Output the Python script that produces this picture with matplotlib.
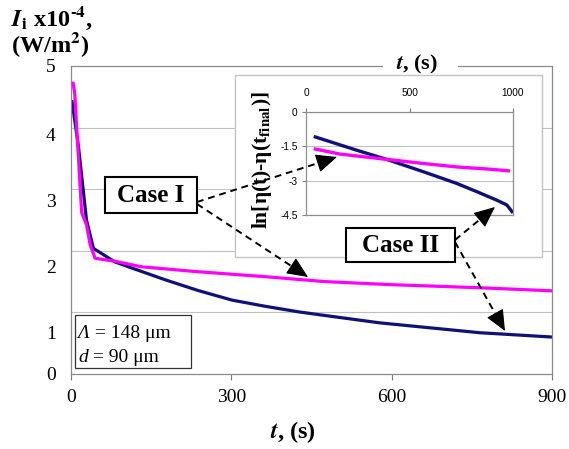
import matplotlib
matplotlib.use("Agg")
import matplotlib.pyplot as plt
from matplotlib.patches import Rectangle
import numpy as np

plt.rcParams['mathtext.fontset'] = 'stix'
plt.rcParams['font.family'] = ['Liberation Serif', 'DejaVu Serif']

# ---------------- data ----------------
# main chart: irradiance I_i x1e-4 (W/m^2) vs time t (s)
case1_t = [4, 7, 17, 20, 29, 36, 45, 82, 132, 238, 363, 475, 600, 765, 900]
case1_I = [4.72, 4.55, 3.04, 2.62, 2.42, 2.09, 1.88, 1.83, 1.74, 1.66, 1.58, 1.50, 1.45, 1.40, 1.35]
case2_t = [2, 14, 29, 42, 82, 114, 176, 238, 301, 363, 425, 475, 578, 765, 900]
case2_I = [4.42, 3.69, 2.50, 2.04, 1.82, 1.72, 1.53, 1.355, 1.20, 1.10, 1.01, 0.95, 0.83, 0.67, 0.60]

# inset: ln[eta(t)-eta(t_final)] vs t
ins1_t = [45, 165, 390, 567, 728, 889, 978]
ins1_v = [-1.62, -1.84, -2.07, -2.25, -2.40, -2.50, -2.57]
ins2_t = [45, 245, 390, 567, 728, 825, 921, 970, 995]
ins2_v = [-1.09, -1.67, -2.07, -2.61, -3.12, -3.48, -3.85, -4.06, -4.35]

x_ticks = [0, 300, 600, 900]
y_tick_labels = ['0', '1', '2', '3', '4', '5']
y_tick_pos = [0.0, 0.67, 1.74, 2.81, 3.88, 5.0]   # labels as placed in the original
y_grid = [1, 2, 3, 4]
ins_x_ticks = [0, 500, 1000]
ins_y_ticks = [0, -1.5, -3, -4.5]
ins_y_labels = ['0', '-1.5', '-3', '-4.5']

NAVY = '#10107a'
MAG = '#ff00ff'
W, H = 569, 449

fig = plt.figure(figsize=(W / 100, H / 100), dpi=100)
fig.patch.set_facecolor('white')

# ---------------- main axes ----------------
ax = fig.add_axes([71 / W, 1 - 374 / H, (552 - 71) / W, (374 - 66) / H])
ax.plot(case1_t, case1_I, color=MAG, lw=2.3, zorder=3, solid_joinstyle='round')
ax.plot(case2_t, case2_I, color=NAVY, lw=2.3, zorder=2, solid_joinstyle='round')
ax.set_xlim(0, 900)
ax.set_ylim(0, 5)
ax.set_xticks(x_ticks)
ax.set_xticklabels([str(v) for v in x_ticks], fontsize=14)
ax.set_yticks(y_tick_pos)
ax.set_yticklabels(y_tick_labels, fontsize=14)
ax.set_yticks(y_grid, minor=True)
ax.tick_params(axis='y', which='both', length=0, pad=11)
ax.tick_params(axis='x', length=4, width=0.8, color='#808080', pad=7)
ax.grid(False)
ax.grid(True, which='minor', axis='y', color='#c0c0c0', lw=0.8)
for s in ax.spines.values():
    s.set_color('#8a8a8a')
    s.set_linewidth(0.9)

# ---------------- inset frame ----------------
frame = Rectangle((235 / W, 1 - 257 / H), (542 - 235) / W, (257 - 75) / H,
                  transform=fig.transFigure, facecolor='white',
                  edgecolor='#c4c4c4', lw=1.0, zorder=1)
fig.add_artist(frame)

ins = fig.add_axes([306 / W, 1 - 215 / H, (513 - 306) / W, (215 - 112) / H])
ins.set_zorder(2)
ins.plot(ins1_t, ins1_v, color=MAG, lw=2.4, zorder=3)
ins.plot(ins2_t, ins2_v, color=NAVY, lw=2.4, zorder=2)
ins.set_xlim(0, 1000)
ins.set_ylim(-4.5, 0)
ins.xaxis.tick_top()
ins.set_xticks(ins_x_ticks)
ins.set_xticklabels([str(v) for v in ins_x_ticks], family='Liberation Sans', fontsize=7.3)
ins.set_yticks(ins_y_ticks)
ins.set_yticklabels(ins_y_labels, family='Liberation Sans', fontsize=7.3)
ins.tick_params(axis='x', length=3, color='#808080', pad=7)
ins.tick_params(axis='y', length=3, color='#808080', pad=3)
ins.grid(True, axis='y', color='#c0c0c0', lw=0.8)
for s in ins.spines.values():
    s.set_color('#909090')
    s.set_linewidth(0.9)

# inset title over the main top border
fig.add_artist(Rectangle((383 / W, 1 - 74 / H), (458 - 383) / W, 18 / H,
                         transform=fig.transFigure, facecolor='white',
                         edgecolor='none', zorder=2.5))
fig.text(417 / W, 1 - 64 / H, r'$\mathbfit{t}$, (s)', fontsize=16, fontweight='bold',
         ha='center', va='center', zorder=3)

# inset y label
fig.text(262 / W, 1 - 160 / H, r'ln[η(t)-η(t$_{\mathbf{final}}$)]', fontsize=15.5,
         fontweight='bold', rotation=90, ha='center', va='center', zorder=3)

# main axis titles
fig.text(11 / W, 1 - 26 / H, r'$\mathbfit{I}_{\mathbf{i}}$ x10$^{\mathbf{‐4}}$,', fontsize=17.5,
         fontweight='bold', ha='left', va='baseline')
fig.text(11 / W, 1 - 52 / H, r'(W/m$^{\mathbf{2}}$)', fontsize=17.5,
         fontweight='bold', ha='left', va='baseline')
fig.text(293 / W, 1 - 432 / H, r'$\mathbfit{t}$, (s)', fontsize=17.5, fontweight='bold',
         ha='center', va='center')

# ---------------- overlay (annotations in pixel space) ----------------
ov = fig.add_axes([0, 0, 1, 1])
ov.set_zorder(5)
ov.set_xlim(0, W)
ov.set_ylim(H, 0)
ov.axis('off')
ov.patch.set_alpha(0)


def arrow(start, tip):
    sx, sy = start
    tx, ty = tip
    d = np.hypot(tx - sx, ty - sy)
    ux, uy = (tx - sx) / d, (ty - sy) / d
    hl = 13
    ov.plot([sx, tx - ux * hl], [sy, ty - uy * hl], color='black', lw=1.4,
            linestyle=(0, (3.5, 2.5)), solid_capstyle='butt')
    ov.annotate('', xy=tip, xytext=(tx - ux * (hl + 1), ty - uy * (hl + 1)),
                arrowprops=dict(arrowstyle='-|>,head_length=0.95,head_width=0.42',
                                lw=0.8, color='black', mutation_scale=14,
                                shrinkA=0, shrinkB=0))


arrow((197, 202), (337, 157))
arrow((197, 204), (308, 277))
arrow((455, 240), (495, 207))
arrow((455, 242), (505, 331))

ov.add_patch(Rectangle((105, 177), 92, 36, facecolor='white', edgecolor='black', lw=1.5))
ov.text(151, 196, 'Case I', fontsize=18, fontweight='bold', ha='center', va='center')
ov.add_patch(Rectangle((346, 228), 109, 34, facecolor='white', edgecolor='black', lw=1.5))
ov.text(400.5, 246, 'Case II', fontsize=18, fontweight='bold', ha='center', va='center')

ov.add_patch(Rectangle((75, 315), 116, 53, facecolor='white', edgecolor='#333333', lw=0.9))
t1 = ov.text(78, 334, 'Λ', fontsize=14, style='italic', ha='left', va='center')
ov.annotate(' = 148 μm', xy=(1, 0), xycoords=t1, fontsize=14, ha='left', va='bottom')
t2 = ov.text(78, 357, 'd', fontsize=14, style='italic', ha='left', va='center')
ov.annotate(' = 90 μm', xy=(1, 0), xycoords=t2, fontsize=14, ha='left', va='bottom')

fig.savefig('out.png', dpi=100, facecolor='white')
